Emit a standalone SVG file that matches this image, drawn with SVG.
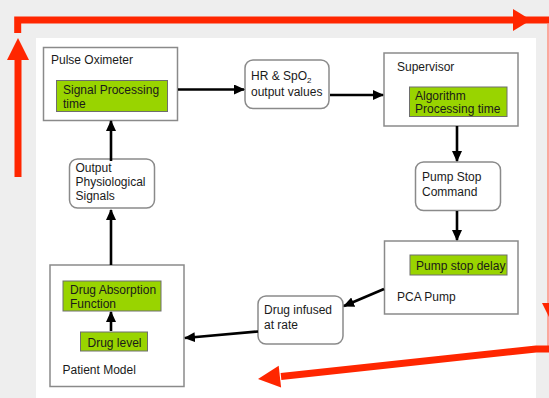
<svg xmlns="http://www.w3.org/2000/svg" width="549" height="398" viewBox="0 0 549 398">
<defs>
<style>
.box{fill:#fff;stroke:#8a8a8a;stroke-width:1.5}
.rbox{fill:#fff;stroke:#8a8a8a;stroke-width:1.5}
.green{fill:#99d400;stroke:#6e6e6e;stroke-width:1}
text{font-family:"Liberation Sans",Arial,sans-serif;font-size:12px;fill:#1a1a1a}
.conn{stroke:#000;stroke-width:2.6;fill:none;marker-end:url(#ah)}
.red{stroke:#ff2600;stroke-width:7;fill:none}
.redhead{fill:#ff2600}
</style>
<marker id="ah" markerUnits="userSpaceOnUse" markerWidth="11" markerHeight="10" refX="10" refY="5" orient="auto">
<path d="M0,0 L11,5 L0,10 z" fill="#000"/>
</marker>
</defs>
<rect x="0" y="0" width="549" height="398" fill="#eeeeee"/>
<rect x="36" y="38" width="500" height="360" fill="#ffffff"/>

<g id="pulse-oximeter">
<rect class="box" x="43.5" y="47.5" width="134" height="73"/>
<text x="51" y="64">Pulse Oximeter</text>
<rect class="green" x="56.5" y="80.5" width="111" height="31"/>
<text x="63" y="94">Signal Processing</text>
<text x="63" y="108">time</text>
</g>

<g id="hr-spo2">
<rect class="rbox" x="245" y="60" width="84" height="48.5" rx="8"/>
<text x="251" y="80">HR &amp; SpO<tspan font-size="8" dy="3">2</tspan></text>
<text x="251" y="96">output values</text>
</g>

<g id="supervisor">
<rect class="box" x="384" y="53" width="134" height="73"/>
<text x="397" y="71">Supervisor</text>
<rect class="green" x="409.5" y="87" width="97.5" height="29.5"/>
<text x="415" y="100">Algorithm</text>
<text x="415" y="113">Processing time</text>
</g>

<g id="pump-stop-command">
<rect class="rbox" x="415.5" y="162" width="85" height="48.5" rx="8"/>
<text x="422" y="181">Pump Stop</text>
<text x="422" y="196">Command</text>
</g>

<g id="pca-pump">
<rect class="box" x="384.5" y="241" width="133.5" height="73"/>
<rect class="green" x="410" y="255" width="97" height="20"/>
<text x="416" y="270">Pump stop delay</text>
<text x="397" y="301">PCA Pump</text>
</g>

<g id="drug-infused">
<rect class="rbox" x="258" y="296" width="85" height="48" rx="8"/>
<text x="264" y="314">Drug infused</text>
<text x="264" y="329">at rate</text>
</g>

<g id="patient-model">
<rect class="box" x="50" y="265" width="134" height="121.5"/>
<rect class="green" x="63" y="281" width="98" height="30"/>
<text x="70" y="294">Drug Absorption</text>
<text x="70" y="308">Function</text>
<rect class="green" x="80.5" y="332" width="67" height="19"/>
<text x="87.5" y="347">Drug level</text>
<text x="62.5" y="374">Patient Model</text>
</g>

<g id="output-signals">
<rect class="rbox" x="69.5" y="159" width="85" height="49" rx="8"/>
<text x="75.5" y="172">Output</text>
<text x="75.5" y="186">Physiological</text>
<text x="75.5" y="200">Signals</text>
</g>

<g id="connectors">
<line class="conn" x1="178" y1="89.5" x2="244" y2="89.5"/>
<line class="conn" x1="330" y1="95" x2="383" y2="95"/>
<line class="conn" x1="457" y1="126" x2="457" y2="161"/>
<line class="conn" x1="457" y1="211" x2="457" y2="240"/>
<line class="conn" x1="384" y1="289" x2="344" y2="306"/>
<line class="conn" x1="258" y1="331.5" x2="185" y2="338"/>
<line class="conn" x1="111" y1="331" x2="111" y2="312"/>
<line class="conn" x1="111" y1="265" x2="111" y2="210"/>
<line class="conn" x1="111" y1="161" x2="111" y2="121"/>
</g>

<g id="red-arrows">
<polyline class="red" points="17.7,33 17.7,20 549,20"/>
<polygon class="redhead" points="513,9 531,20 513,31"/>
<line class="red" x1="18" y1="177" x2="18" y2="58"/>
<polygon class="redhead" points="7,60 18,38 29,60"/>
<line x1="548" y1="24" x2="548" y2="346" stroke="#ff8f80" stroke-width="1.5"/>
<polygon class="redhead" points="542,303 564,303 553,325"/>
<polyline class="red" points="549,349 536,349 281,376.4"/>
<polygon class="redhead" points="258,379 278.7,365.7 281.1,387.6"/>
</g>
</svg>
